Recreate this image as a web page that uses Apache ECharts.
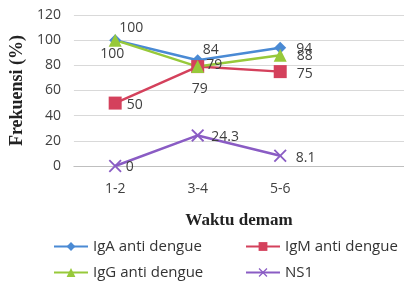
<!DOCTYPE html>
<html>
<head>
<meta charset="utf-8">
<script src="https://cdn.jsdelivr.net/npm/echarts@6/dist/echarts.min.js"></script>
<style>
  html, body { margin: 0; padding: 0; background: #fff; }
  #chart { width: 404px; height: 286px; }
</style>
</head>
<body>
<div id="chart"></div>
<script>
// data
const categories = ["1-2", "3-4", "5-6", ""];
const igA = [100, 84, 94];
const igM = [50, 79, 75];
const igG = [100, 79, 88];
const ns1 = [0, 24.3, 8.1];
const yTicks = [0, 20, 40, 60, 80, 100, 120];

const crossPath = "path://M0,1L1,0L5,4L9,0L10,1L6,5L10,9L9,10L5,6L1,10L0,9L4,5Z";

let chart = echarts.init(document.getElementById("chart"));

const labelFont = { fontFamily: "Open Sans", fontSize: 14, color: "#404040" };

function mkData(vals, positions) {
  return vals.map((v, i) => ({
    value: v,
    label: Object.assign({ show: true, distance: 6 }, positions[i])
  }));
}

const series = [
  {
    name: "IgA anti dengue", color: "#4a8ad4", symbol: "diamond", symbolSize: 12,
    data: mkData(igA, [
      { position: "right", offset: [-8, -12] },
      { position: "right", offset: [-7, -10] },
      { position: "right", offset: [4, 1] }
    ])
  },
  {
    name: "IgM anti dengue", color: "#d4415c", symbol: "rect", symbolSize: 13,
    data: mkData(igM, [
      { position: "right", offset: [-1, 2] },
      { position: "right", offset: [-4, -2] },
      { position: "right", offset: [4, 2] }
    ])
  },
  {
    name: "IgG anti dengue", color: "#97c93a", symbol: "triangle", symbolSize: 13,
    data: mkData(igG, [
      { position: "bottom", offset: [-3, -6] },
      { position: "bottom", offset: [2, 3] },
      { position: "right", offset: [4, 1] }
    ])
  },
  {
    name: "NS1", color: "#8a5cc4", symbol: crossPath, symbolSize: 13,
    data: mkData(ns1, [
      { position: "right", offset: [-2, 1] },
      { position: "right", offset: [1, 2] },
      { position: "right", offset: [3, 2] }
    ])
  }
].map(s => ({
  type: "line",
  name: s.name,
  data: s.data,
  symbol: s.symbol,
  symbolSize: s.symbolSize,
  showAllSymbol: true,
  lineStyle: { width: 2.5, color: s.color },
  itemStyle: { color: s.color },
  label: labelFont,
  animation: false
}));

const legendCommon = {
  orient: "vertical",
  top: 234,
  itemWidth: 34,
  itemHeight: 11,
  itemGap: 11,
  textStyle: { fontFamily: "Open Sans", fontSize: 15, color: "#333" }
};

chart.setOption({
  backgroundColor: "#fff",
  grid: { left: 64, right: -6, top: 15, bottom: 120 },
  xAxis: {
    type: "category",
    data: categories,
    boundaryGap: true,
    axisLine: { lineStyle: { color: "#bfbfbf" } },
    axisTick: { show: false },
    axisLabel: { fontFamily: "Open Sans", fontSize: 14, color: "#404040", margin: 16 },
    name: "Waktu demam",
    nameLocation: "middle",
    nameGap: 46,
    nameTextStyle: { fontFamily: "Liberation Serif", fontWeight: "bold", fontSize: 17, color: "#222" }
  },
  yAxis: {
    type: "value",
    min: yTicks[0],
    max: yTicks[yTicks.length - 1],
    interval: 20,
    axisLine: { show: false },
    axisTick: { show: false },
    splitLine: { lineStyle: { color: "#d9d9d9", width: 1 } },
    axisLabel: { fontFamily: "Open Sans", fontSize: 14, color: "#404040", margin: 13 },
    name: "Frekuensi (%)",
    nameLocation: "middle",
    nameGap: 36,
    nameTextStyle: { fontFamily: "Liberation Serif", fontWeight: "bold", fontSize: 18, color: "#222" }
  },
  legend: [
    Object.assign({ left: 48, data: ["IgA anti dengue", "IgG anti dengue"] }, legendCommon),
    Object.assign({ left: 240, data: ["IgM anti dengue", "NS1"] }, legendCommon)
  ],
  series: series
});
</script>
</body>
</html>
